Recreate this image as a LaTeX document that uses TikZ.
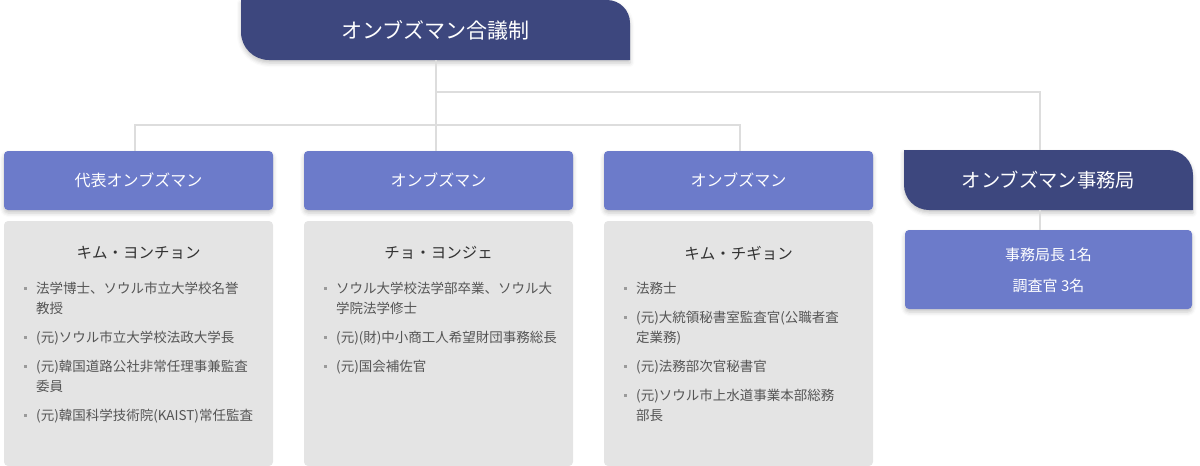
\documentclass[tikz,border=0pt]{standalone}
\usepackage{fontspec}
\setmainfont{Noto Sans CJK JP}
\usetikzlibrary{shadows.blur}
\definecolor{navy}{HTML}{3D477E}
\definecolor{lblue}{HTML}{6C7BCA}
\definecolor{cardgray}{HTML}{E4E4E4}
\definecolor{linegray}{HTML}{DDDDDD}
\definecolor{namec}{HTML}{333333}
\definecolor{itemc}{HTML}{555555}
\definecolor{dotc}{HTML}{9A9A9A}
\begin{document}
\begin{tikzpicture}[x=1pt,y=1pt,
  shd/.style={blur shadow={shadow xshift=0pt, shadow yshift=-3pt, shadow blur radius=4pt, shadow opacity=22}},
  tabshape/.style={fill=navy, shd},
  tabtext/.style={text=white, inner sep=0pt},
  hdr/.style={fill=lblue, rounded corners=4pt, minimum width=269pt, minimum height=59pt, inner sep=0pt, text=white, font=\fontsize{16}{19}\selectfont, shd},
  card/.style={fill=cardgray, rounded corners=4pt, minimum width=269pt, minimum height=245pt, inner sep=0pt},
  pname/.style={text=namec, inner sep=0pt, font=\fontsize{15.5}{18}\selectfont},
  item/.style={anchor=base west, align=left, inner sep=0pt, text=itemc, font=\fontsize{13.5}{20}\selectfont},
  bdot/.style={fill=dotc, minimum size=3pt, inner sep=0pt},
  conn/.style={draw=linegray, line width=2pt}
]
\useasboundingbox (0,0) rectangle (1200,-466);

% top title tab
\fill[tabshape] (241,0) -- (607,0) arc[start angle=90, end angle=0, radius=23] -- (630,-60) -- (269,-60) arc[start angle=270, end angle=180, radius=28] -- cycle;
\node[tabtext, minimum width=389pt, minimum height=60pt, font=\fontsize{21}{24}\selectfont] (title) at (435.5,-30) {オンブズマン合議制};

% office tab
\fill[tabshape] (904,-150) -- (1168,-150) arc[start angle=90, end angle=0, radius=25] -- (1193,-210) -- (929,-210) arc[start angle=270, end angle=180, radius=25] -- cycle;
\node[tabtext, minimum width=289pt, minimum height=60pt, font=\fontsize{19.3}{22}\selectfont] (office) at (1048.5,-180) {オンブズマン事務局};

% office sub box
\node[fill=lblue, rounded corners=4pt, minimum width=287pt, minimum height=79pt, inner sep=0pt, shd] (sub) at (1048.5,-269.5) {};
\node[text=white, inner sep=0pt, font=\fontsize{15}{18}\selectfont] (sub1) at (1048.5,-255) {事務局長 1名};
\node[text=white, inner sep=0pt, font=\fontsize{15}{18}\selectfont] (sub2) at (1048.5,-286) {調査官 3名};

% headers
\node[hdr] (h1) at (138.5,-180.5) {代表オンブズマン};
\node[hdr] (h2) at (438.5,-180.5) {オンブズマン};
\node[hdr] (h3) at (738.5,-180.5) {オンブズマン};

% cards
\node[card] (c1) at (138.5,-343.5) {};
\node[card] (c2) at (438.5,-343.5) {};
\node[card] (c3) at (738.5,-343.5) {};

\node[pname] (n1) at (138.5,-253) {キム・ヨンチョン};
\node[pname] (n2) at (438.5,-253) {チョ・ヨンジェ};
\node[pname] (n3) at (738.5,-253) {キム・チギョン};

% card 1 items (base = baseline of last line)
\node[bdot] (d11) at (25,-288) {};
\node[item] (i11) at (36,-313) {法学博士、ソウル市立大学校名誉\\教授};
\node[bdot] (d12) at (25,-337) {};
\node[item] (i12) at (36,-342) {(元)ソウル市立大学校法政大学長};
\node[bdot] (d13) at (25,-366) {};
\node[item] (i13) at (36,-391) {(元)韓国道路公社非常任理事兼監査\\委員};
\node[bdot] (d14) at (25,-415) {};
\node[item] (i14) at (36,-420) {(元)韓国科学技術院(KAIST)常任監査};

% card 2 items
\node[bdot] (d21) at (325,-288) {};
\node[item] (i21) at (336,-313) {ソウル大学校法学部卒業、ソウル大\\学院法学修士};
\node[bdot] (d22) at (325,-337) {};
\node[item] (i22) at (336,-342) {(元)(財)中小商工人希望財団事務総長};
\node[bdot] (d23) at (325,-366) {};
\node[item] (i23) at (336,-371) {(元)国会補佐官};

% card 3 items
\node[bdot] (d31) at (625,-288) {};
\node[item] (i31) at (636,-293) {法務士};
\node[bdot] (d32) at (625,-317) {};
\node[item] (i32) at (636,-342) {(元)大統領秘書室監査官(公職者査\\定業務)};
\node[bdot] (d33) at (625,-366) {};
\node[item] (i33) at (636,-371) {(元)法務部次官秘書官};
\node[bdot] (d34) at (625,-395) {};
\node[item] (i34) at (636,-420) {(元)ソウル市上水道事業本部総務\\部長};

% connectors
\coordinate (b1) at (135,-125);
\coordinate (b3) at (740,-125);
\coordinate (r) at (1040,-92);
\draw[conn] (title.south) -- (title.south |- h2.north);
\draw[conn] (b1 |- h1.north) -- (b1) -- (b3) -- (b3 |- h3.north);
\draw[conn] (title.south |- r) -- (r) -- (r |- office.north);
\draw[conn] (r |- office.south) -- (r |- sub.north);
\end{tikzpicture}
\end{document}
